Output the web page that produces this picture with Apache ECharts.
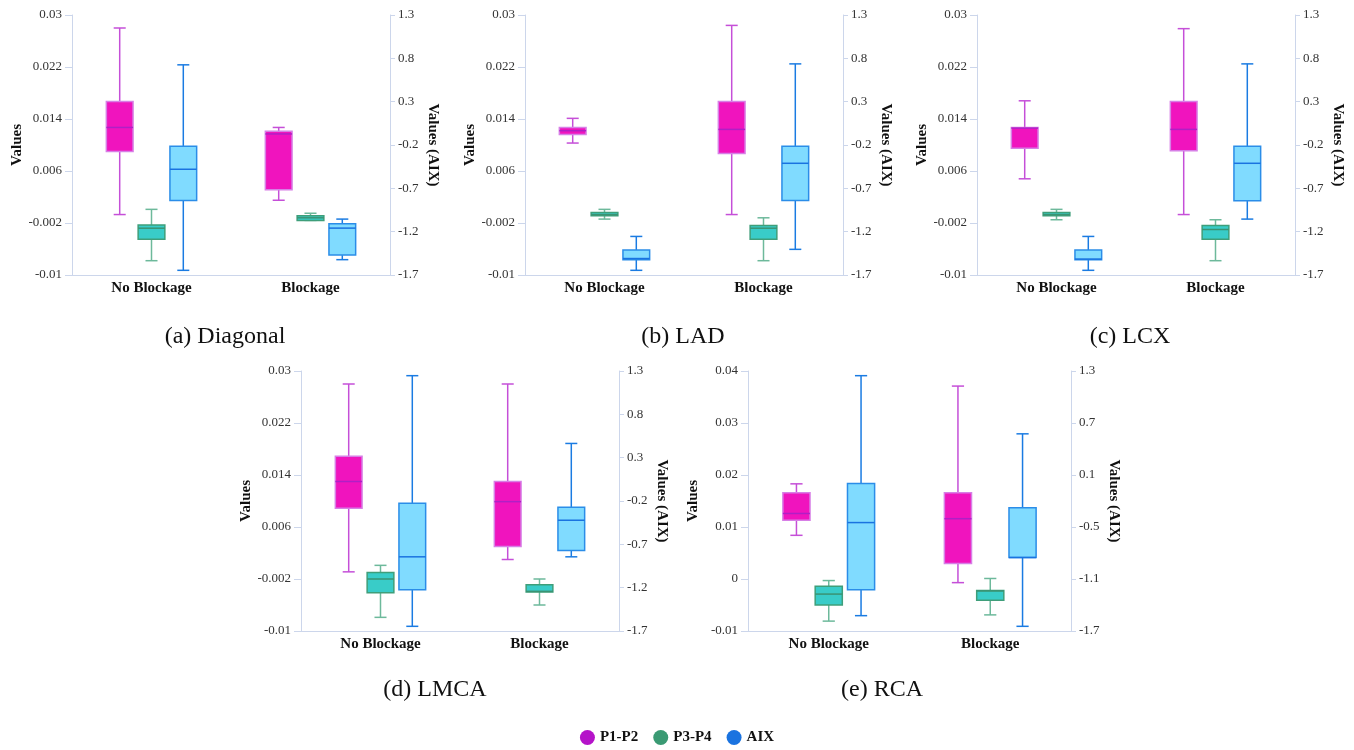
<!DOCTYPE html>
<html>
<head>
<meta charset="utf-8">
<script src="https://cdn.jsdelivr.net/npm/echarts@6/dist/echarts.min.js"></script>
<style>html,body{margin:0;padding:0;background:#fff;}#chart{width:1354px;height:750px;}</style>
</head>
<body>
<div id="chart"></div>
<script>
// ---- data ----
const categories = ['No Blockage', 'Blockage'];
const seriesNames = ['P1-P2', 'P3-P4', 'AIX'];
const panelTitles = ['(a) Diagonal', '(b) LAD', '(c) LCX', '(d) LMCA', '(e) RCA'];
// axis ranges: [min, max, interval]
const leftAxisRanges = [[-0.01, 0.03, 0.008], [-0.01, 0.03, 0.008], [-0.01, 0.03, 0.008], [-0.01, 0.03, 0.008], [-0.01, 0.04, 0.01]];
const rightAxisRanges = [[-1.7, 1.3, 0.5], [-1.7, 1.3, 0.5], [-1.7, 1.3, 0.5], [-1.7, 1.3, 0.5], [-1.7, 1.3, 0.6]];

// each entry: [min, Q1, median, Q3, max] for No Blockage, Blockage
const diagonalP1P2 = [[-0.0007, 0.0090, 0.0127, 0.0167, 0.0280], [0.0015, 0.0031, 0.0117, 0.0121, 0.0127]];
const diagonalP3P4 = [[-0.0078, -0.0045, -0.0028, -0.0023, 0.0001], [-0.0016, -0.0016, -0.0012, -0.0009, -0.0005]];
const diagonalAIX  = [[-1.646, -0.840, -0.480, -0.215, 0.725], [-1.523, -1.470, -1.159, -1.109, -1.055]];

const ladP1P2 = [[0.0103, 0.0116, 0.0122, 0.0127, 0.0141], [-0.0007, 0.0087, 0.0124, 0.0167, 0.0284]];
const ladP3P4 = [[-0.0014, -0.0009, -0.0007, -0.0004, 0.0001], [-0.0078, -0.0045, -0.0028, -0.0024, -0.0012]];
const ladAIX  = [[-1.646, -1.523, -1.510, -1.412, -1.255], [-1.404, -0.840, -0.411, -0.215, 0.736]];

const lcxP1P2 = [[0.0048, 0.0095, 0.0126, 0.0127, 0.0168], [-0.0007, 0.0091, 0.0124, 0.0167, 0.0279]];
const lcxP3P4 = [[-0.0015, -0.0009, -0.0007, -0.0004, 0.0001], [-0.0078, -0.0045, -0.0030, -0.0024, -0.0015]];
const lcxAIX  = [[-1.646, -1.523, -1.516, -1.412, -1.255], [-1.055, -0.844, -0.411, -0.215, 0.736]];

const lmcaP1P2 = [[-0.0009, 0.0089, 0.0130, 0.0169, 0.0280], [0.0010, 0.0030, 0.0099, 0.0130, 0.0280]];
const lmcaP3P4 = [[-0.0079, -0.0041, -0.0020, -0.0010, 0.0001], [-0.0060, -0.0040, -0.0039, -0.0029, -0.0020]];
const lmcaAIX  = [[-1.646, -1.224, -0.844, -0.227, 1.246], [-0.844, -0.771, -0.422, -0.273, 0.464]];

const rcaP1P2 = [[0.0084, 0.0113, 0.0126, 0.0166, 0.0183], [-0.0007, 0.0030, 0.0116, 0.0166, 0.0371]];
const rcaP3P4 = [[-0.0081, -0.0050, -0.0029, -0.0014, -0.0003], [-0.0069, -0.0041, -0.0023, -0.0022, 0.0001]];
const rcaAIX  = [[-1.523, -1.224, -0.449, 0.003, 1.246], [-1.646, -0.852, -0.852, -0.277, 0.575]];

const panelData = [
  [diagonalP1P2, diagonalP3P4, diagonalAIX],
  [ladP1P2, ladP3P4, ladAIX],
  [lcxP1P2, lcxP3P4, lcxAIX],
  [lmcaP1P2, lmcaP3P4, lmcaAIX],
  [rcaP1P2, rcaP3P4, rcaAIX]
];

// ---- layout & style ----
const grids = [
  {left: 72, top: 15, width: 318, height: 260},
  {left: 525, top: 15, width: 318, height: 260},
  {left: 977, top: 15, width: 318, height: 260},
  {left: 301, top: 371, width: 318, height: 260},
  {left: 748, top: 371, width: 323, height: 260}
];
const titlePos = [[225, 325], [683, 325], [1130, 325], [435, 678], [882, 678]];
const styles = [
  {fill: '#f014be', border: '#d77fe6', median: '#b01fc6', whisker: '#c54fd8', legend: '#b513c9'},
  {fill: '#39ccc8', border: '#3f9e7a', median: '#3a9373', whisker: '#6db99b', legend: '#3a9a73'},
  {fill: '#80dbff', border: '#2b8de8', median: '#1a73e0', whisker: '#1a7be2', legend: '#1a73e0'}
];
const offsets = [-0.2, 0, 0.2];
const FONT = '"Liberation Serif", "Times New Roman", serif';
const axisColor = '#ccd6eb';

function makeRender(si) {
  const st = styles[si];
  return function (params, api) {
    const x = api.value(0);
    const vMin = api.value(1), q1 = api.value(2), med = api.value(3), q3 = api.value(4), vMax = api.value(5);
    const band = api.size([1, 0])[0];
    const cx = api.coord([x, med])[0] + offsets[si] * band;
    const w = band * 0.168;
    const cap = w * 0.45;
    const y = v => api.coord([x, v])[1];
    const yMin = y(vMin), yQ1 = y(q1), yMed = y(med), yQ3 = y(q3), yMax = y(vMax);
    const lw = 1.5;
    return {
      type: 'group',
      children: [
        {type: 'line', shape: {x1: cx, y1: yQ3, x2: cx, y2: yMax}, style: {stroke: st.whisker, lineWidth: lw}},
        {type: 'line', shape: {x1: cx - cap / 2, y1: yMax, x2: cx + cap / 2, y2: yMax}, style: {stroke: st.whisker, lineWidth: lw}},
        {type: 'line', shape: {x1: cx, y1: yQ1, x2: cx, y2: yMin}, style: {stroke: st.whisker, lineWidth: lw}},
        {type: 'line', shape: {x1: cx - cap / 2, y1: yMin, x2: cx + cap / 2, y2: yMin}, style: {stroke: st.whisker, lineWidth: lw}},
        {type: 'rect', shape: {x: cx - w / 2, y: yQ3, width: w, height: yQ1 - yQ3}, style: {fill: st.fill, stroke: st.border, lineWidth: lw}},
        {type: 'line', shape: {x1: cx - w / 2, y1: yMed, x2: cx + w / 2, y2: yMed}, style: {stroke: st.median, lineWidth: lw}}
      ]
    };
  };
}

const xAxes = [], yAxes = [], series = [], titles = [];
grids.forEach((g, p) => {
  xAxes.push({
    type: 'category', gridIndex: p, data: categories,
    axisLine: {onZero: false, lineStyle: {color: axisColor}},
    axisTick: {length: 7, lineStyle: {color: axisColor}},
    axisLabel: {fontFamily: FONT, fontWeight: 'bold', fontSize: 15, color: '#111', margin: 6},
    splitLine: {show: false}
  });
  const L = leftAxisRanges[p], R = rightAxisRanges[p];
  yAxes.push({
    type: 'value', gridIndex: p, position: 'left', min: L[0], max: L[1], interval: L[2],
    name: 'Values', nameLocation: 'middle', nameGap: 47,
    nameTextStyle: {fontFamily: FONT, fontWeight: 'bold', fontSize: 15, color: '#111'},
    axisLine: {show: true, onZero: false, lineStyle: {color: axisColor}},
    axisTick: {show: true, length: 7, lineStyle: {color: axisColor}},
    axisLabel: {fontFamily: FONT, fontSize: 13, color: '#333', margin: 10},
    splitLine: {show: false}
  });
  yAxes.push({
    type: 'value', gridIndex: p, position: 'right', min: R[0], max: R[1], interval: R[2],
    name: 'Values (AIX)', nameLocation: 'middle', nameGap: 35, nameRotate: -90,
    nameTextStyle: {fontFamily: FONT, fontWeight: 'bold', fontSize: 15, color: '#111'},
    axisLine: {show: true, onZero: false, lineStyle: {color: axisColor}},
    axisTick: {show: true, length: 5, lineStyle: {color: axisColor}},
    axisLabel: {fontFamily: FONT, fontSize: 13, color: '#333', margin: 8},
    splitLine: {show: false}
  });
  panelData[p].forEach((arr, si) => {
    series.push({
      type: 'custom', name: seriesNames[si],
      xAxisIndex: p, yAxisIndex: p * 2 + (si === 2 ? 1 : 0),
      itemStyle: {color: styles[si].legend},
      encode: {x: 0, y: [1, 2, 3, 4, 5]},
      data: arr.map((v, ci) => [ci].concat(v)),
      renderItem: makeRender(si)
    });
  });
  titles.push({
    text: panelTitles[p], left: titlePos[p][0], top: titlePos[p][1], textAlign: 'center', padding: 0,
    textStyle: {fontFamily: FONT, fontWeight: 'normal', fontSize: 24, color: '#111'}
  });
});

const chart = echarts.init(document.getElementById('chart'), null, {renderer: 'canvas'});
chart.setOption({
  animation: false,
  backgroundColor: '#fff',
  title: titles,
  grid: grids,
  xAxis: xAxes,
  yAxis: yAxes,
  legend: {
    bottom: 0, left: 'center', itemWidth: 15, itemHeight: 15, itemGap: 15, icon: 'circle',
    textStyle: {fontFamily: FONT, fontWeight: 'bold', fontSize: 15, color: '#111'},
    data: seriesNames.map((n, i) => ({name: n, icon: 'circle', itemStyle: {color: styles[i].legend}}))
  },
  series: series
});
</script>
</body>
</html>
